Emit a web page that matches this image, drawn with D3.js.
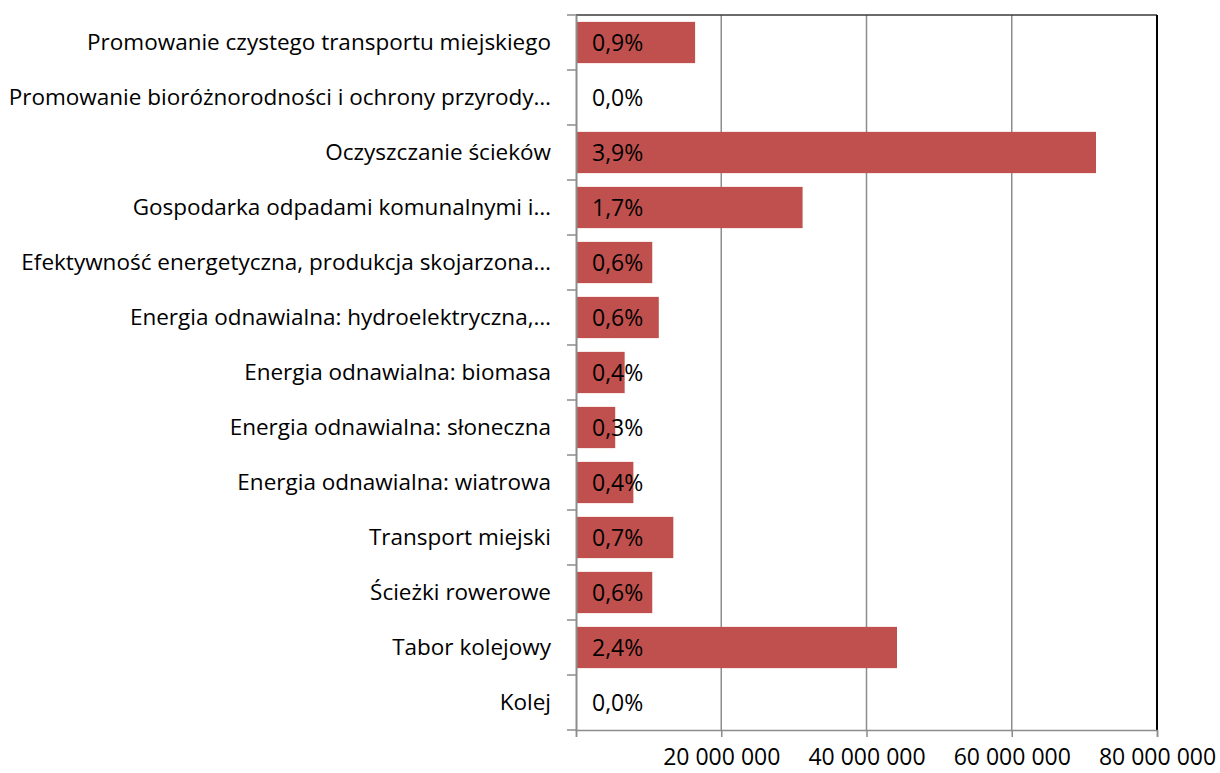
<!DOCTYPE html>
<html>
<head>
<meta charset="utf-8">
<script src="https://cdn.jsdelivr.net/npm/d3@7"></script>
<style>
  body { margin: 0; background: #fff; }
  svg text { font-family: "Open Sans", "Noto Sans", sans-serif; fill: #000; }
</style>
</head>
<body>
<svg id="chart" width="1220" height="773"></svg>
<script>
// categories top to bottom, amounts in PLN, share labels as printed on the bars
const categories = [
  "Promowanie czystego transportu miejskiego",
  "Promowanie bioróżnorodności i ochrony przyrody…",
  "Oczyszczanie ścieków ",
  "Gospodarka odpadami komunalnymi i…",
  "Efektywność energetyczna, produkcja skojarzona…",
  "Energia odnawialna: hydroelektryczna,…",
  "Energia odnawialna: biomasa",
  "Energia odnawialna: słoneczna",
  "Energia odnawialna: wiatrowa",
  "Transport miejski",
  "Ścieżki rowerowe",
  "Tabor kolejowy",
  "Kolej"
]
const amounts = [
  16400000, 0, 71600000, 31200000, 10500000, 11400000,
  6700000, 5400000, 7900000, 13400000, 10500000, 44200000, 0
]
const shares = [
  "0,9%", "0,0%", "3,9%", "1,7%", "0,6%", "0,6%",
  "0,4%", "0,3%", "0,4%", "0,7%", "0,6%", "2,4%", "0,0%"
]
const xTicks = [0, 20000000, 40000000, 60000000, 80000000]

const plotLeft = 576, plotRight = 1157, plotTop = 15, plotBottom = 730
const labelSize = 22.5
const valueSize = 23

const svg = d3.select("#chart")

const x = d3.scaleLinear().domain([0, 80000000]).range([plotLeft, plotRight])
const y = d3.scaleBand().domain(categories).range([plotTop, plotBottom]).paddingInner(0.25).paddingOuter(0.125)

// vertical gridlines
svg.append("g")
  .selectAll("line")
  .data(xTicks.slice(1, -1))
  .join("line")
  .attr("x1", (d) => x(d)).attr("x2", (d) => x(d))
  .attr("y1", plotTop).attr("y2", plotBottom)
  .attr("stroke", "#8c8c8c").attr("stroke-width", 1.5)

// bars
svg.append("g")
  .selectAll("rect")
  .data(categories)
  .join("rect")
  .attr("x", x(0))
  .attr("y", (d) => y(d))
  .attr("width", (d, i) => x(amounts[i]) - x(0))
  .attr("height", y.bandwidth())
  .attr("fill", "#c0504d")

// plot frame: top and right edges
svg.append("line")
  .attr("x1", plotLeft).attr("x2", plotRight).attr("y1", plotTop).attr("y2", plotTop)
  .attr("stroke", "#3a3a3a").attr("stroke-width", 1.5)
svg.append("line")
  .attr("x1", plotRight).attr("x2", plotRight).attr("y1", plotTop).attr("y2", plotBottom)
  .attr("stroke", "#000").attr("stroke-width", 2)

// bottom axis (no label at zero)
const xAxis = d3.axisBottom(x)
  .tickValues(xTicks)
  .tickSize(7)
  .tickFormat((d) => (d === 0 ? "" : d3.format(",")(d).replace(/,/g, " ")))
const gx = svg.append("g").attr("transform", `translate(0,${plotBottom})`).call(xAxis)
gx.select(".domain").attr("stroke", "#8c8c8c").attr("stroke-width", 1.5)
gx.selectAll(".tick line").attr("stroke", "#8c8c8c").attr("stroke-width", 1.5)
gx.selectAll(".tick text")
  .attr("y", 35)
  .attr("dy", 0)
  .attr("font-size", valueSize)
  .attr("font-family", "Open Sans, Noto Sans, sans-serif")
  .attr("fill", "#000")

// left axis, ticks sit between categories
const yAxis = d3.axisLeft(y).tickSize(0).tickPadding(25)
const gy = svg.append("g").attr("transform", `translate(${plotLeft},0)`).call(yAxis)
gy.select(".domain").attr("stroke", "#8c8c8c").attr("stroke-width", 2)
gy.selectAll(".tick text")
  .attr("font-size", labelSize)
  .attr("font-family", "Open Sans, Noto Sans, sans-serif")
  .attr("fill", "#000")

svg.append("g")
  .selectAll("line")
  .data(d3.range(categories.length + 1))
  .join("line")
  .attr("x1", plotLeft - 9).attr("x2", plotLeft)
  .attr("y1", (i) => plotTop + i * (plotBottom - plotTop) / categories.length)
  .attr("y2", (i) => plotTop + i * (plotBottom - plotTop) / categories.length)
  .attr("stroke", "#8c8c8c").attr("stroke-width", 1.5)

// value labels
svg.append("g")
  .selectAll("text")
  .data(categories)
  .join("text")
  .attr("x", x(0) + 16)
  .attr("y", (d) => y(d) + y.bandwidth() / 2)
  .attr("dy", "0.36em")
  .attr("font-size", valueSize)
  .text((d, i) => shares[i])
</script>
</body>
</html>
